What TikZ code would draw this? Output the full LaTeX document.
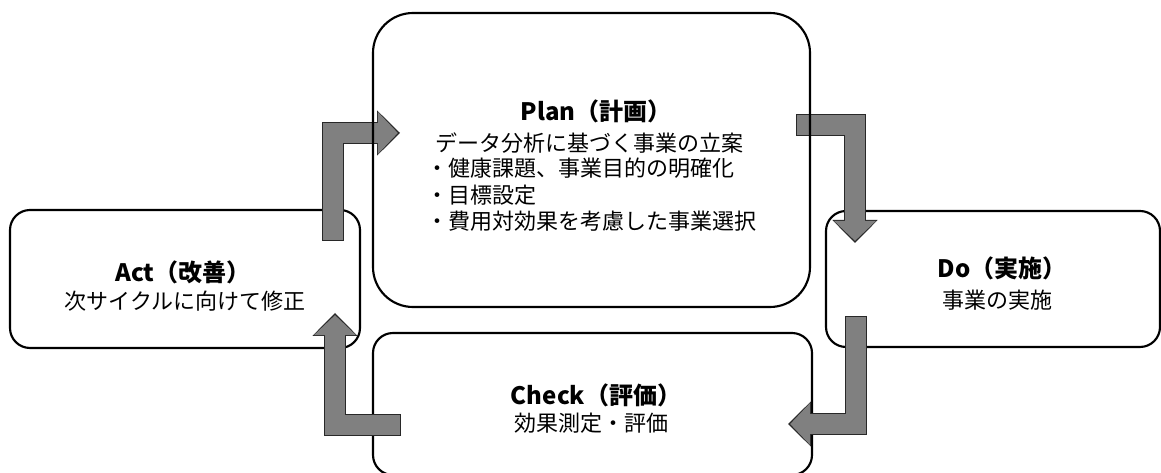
\documentclass[tikz,border=0pt]{standalone}
\usepackage{fontspec}
\setmainfont{Noto Sans CJK JP}
\usetikzlibrary{arrows.meta}
\definecolor{arrowfill}{RGB}{128,128,128}
\definecolor{arrowline}{RGB}{40,40,40}
\begin{document}
\begin{tikzpicture}[x=0.75pt,y=-0.75pt,
  box/.style={draw=black, line width=1.6pt, fill=white, rectangle, inner sep=0pt, outer sep=0pt},
  titletext/.style={font=\fontsize{18}{22}\selectfont\bfseries, inner sep=0pt},
  bodytext/.style={font=\fontsize{16.5}{20}\selectfont, inner sep=0pt},
  arrback/.style={draw=arrowline, line width=16.5pt, shorten <=-0.75pt,
    -{Triangle[length=17.25pt,width=34pt,line width=0pt]}},
  arrfront/.style={draw=arrowfill, line width=15pt, shorten >=1.6pt,
    -{Triangle[length=15pt,width=31.5pt,line width=0pt]}},
]
\useasboundingbox (0,0) rectangle (1161,473);

% boxes under the arrows
\node[box, minimum width=262.5pt, minimum height=103.5pt, rounded corners=15pt] (act) at (185,279) {};
\node[box, minimum width=250.5pt, minimum height=102pt, rounded corners=15pt] (do) at (993,279) {};
\node[box, minimum width=329.25pt, minimum height=106.5pt, rounded corners=15pt] (check) at (592.5,404) {};

% arrow end points
\coordinate (a1s) at (333,240);
\coordinate (a1e) at (400,133);
\coordinate (a2s) at (797,125);
\coordinate (a2e) at (855,243);
\coordinate (a3s) at (856,317);
\coordinate (a3e) at (788,424);
\coordinate (a4s) at (400,425);
\coordinate (a4e) at (335,313);

\draw[arrback] (a1s) |- (a1e);
\draw[arrfront] (a1s) |- (a1e);
\draw[arrback] (a2s) -| (a2e);
\draw[arrfront] (a2s) -| (a2e);
\draw[arrback] (a3s) |- (a3e);
\draw[arrfront] (a3s) |- (a3e);
\draw[arrback] (a4s) -| (a4e);
\draw[arrfront] (a4s) -| (a4e);

% plan box on top (outline only)
\node[box, fill=none, minimum width=327.75pt, minimum height=220.5pt, rounded corners=30pt] (plan) at (591.5,160) {};

% texts
\node[titletext] (planT) at (596,111) {Plan（計画）};
\node[bodytext, anchor=west] (planB) at (435,143) {データ分析に基づく事業の立案};
\node[bodytext, anchor=west] (planP1) at (426,168) {・健康課題、事業目的の明確化};
\node[bodytext, anchor=west] (planP2) at (426,195) {・目標設定};
\node[bodytext, anchor=west] (planP3) at (426,221) {・費用対効果を考慮した事業選択};

\node[titletext] (actT) at (183,272) {Act（改善）};
\node[bodytext] (actB) at (185,301) {次サイクルに向けて修正};

\node[titletext] (doT) at (1002,268) {Do（実施）};
\node[bodytext] (doB) at (997,300) {事業の実施};

\node[titletext] (chkT) at (596,395) {Check（評価）};
\node[bodytext] (chkB) at (591,423) {効果測定・評価};
\end{tikzpicture}
\end{document}
